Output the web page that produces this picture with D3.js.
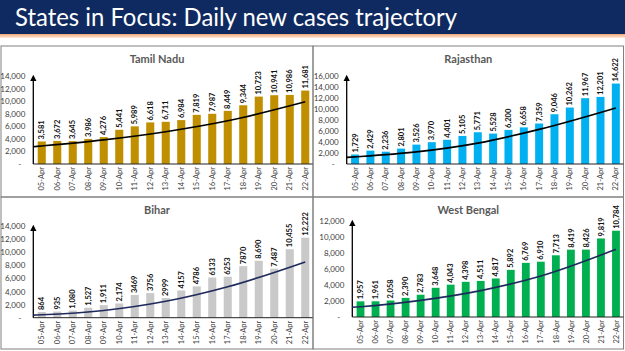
<!DOCTYPE html>
<html>
  <head>
  <title>States in Focus</title>
  </head>
  <body>
  <style>
    body, html {
      margin: 0;
      padding: 0;
      background: #fff;
    }
    svg text {
      font-family: Lato, "Open Sans", sans-serif;
    }
  </style>

  <svg id="svg" width="625" height="351"></svg>

  <script src="https://cdn.jsdelivr.net/npm/d3@7"></script>
  <script>
    // data
    const dates = ['05-Apr', '06-Apr', '07-Apr', '08-Apr', '09-Apr', '10-Apr', '11-Apr', '12-Apr', '13-Apr',
      '14-Apr', '15-Apr', '16-Apr', '17-Apr', '18-Apr', '19-Apr', '20-Apr', '21-Apr', '22-Apr']

    const tamilNadu = [3581, 3672, 3645, 3986, 4276, 5441, 5989, 6618, 6711, 6984, 7819, 7987, 8449, 9344, 10723, 10941, 10986, 11681]
    const rajasthan = [1729, 2429, 2236, 2801, 3526, 3970, 4401, 5105, 5771, 5528, 6200, 6658, 7359, 9046, 10262, 11967, 12201, 14622]
    const bihar = [864, 935, 1080, 1527, 1911, 2174, 3469, 3756, 2999, 4157, 4786, 6133, 6253, 7870, 8690, 7487, 10455, 12222]
    const biharLabels = ['864', '935', '1,080', '1,527', '1,911', '2,174', '3469', '3756', '2999', '4157', '4786', '6133',
      '6253', '7870', '8,690', '7,487', '10,455', '12,222']
    const westBengal = [1957, 1961, 2058, 2390, 2783, 3648, 4043, 4398, 4511, 4817, 5892, 6769, 6910, 7713, 8419, 8426, 9819, 10784]

    // trend line, read at a few dates (plus the value where it meets the y axis)
    const trendDates = ['05-Apr', '09-Apr', '13-Apr', '17-Apr', '22-Apr']
    const tamilNaduTrend = [2870, 3840, 5140, 6875, 9900]
    const rajasthanTrend = [1300, 2200, 3800, 6300, 10200]
    const biharTrend = [450, 1100, 2500, 4720, 8520]
    const westBengalTrend = [1280, 2080, 3300, 5125, 8460]
    const trendStart = { tn: 2750, rj: 1200, br: 400, wb: 1210 }

    const svg = d3.select('#svg')

    // header banner
    const grad = svg.append('defs').append('linearGradient')
      .attr('id', 'stripe').attr('x1', 0).attr('x2', 0).attr('y1', 0).attr('y2', 1)
    grad.append('stop').attr('offset', '0%').attr('stop-color', '#f0a878')
    grad.append('stop').attr('offset', '100%').attr('stop-color', '#fde9dc')

    svg.select('defs').append('marker')
      .attr('id', 'arrow')
      .attr('viewBox', '0 0 10 10')
      .attr('refX', 5).attr('refY', 5)
      .attr('markerWidth', 5).attr('markerHeight', 5)
      .attr('orient', 'auto')
      .append('path')
      .attr('d', 'M0,0 L10,5 L0,10 z')
      .attr('fill', '#000')

    svg.append('rect').attr('x', 0).attr('y', 0).attr('width', 625).attr('height', 34).attr('fill', '#0f2a60')
    svg.append('rect').attr('x', 0).attr('y', 34).attr('width', 625).attr('height', 4).attr('fill', 'url(#stripe)')
    svg.append('text')
      .attr('x', 15).attr('y', 26)
      .attr('fill', '#fff')
      .attr('font-size', 25)
      .attr('textLength', 442)
      .attr('lengthAdjust', 'spacingAndGlyphs')
      .text('States in Focus: Daily new cases trajectory')

    function drawPanel(cfg) {
      const g = svg.append('g')

      g.append('rect')
        .attr('x', cfg.box[0]).attr('y', cfg.box[1])
        .attr('width', cfg.box[2] - cfg.box[0]).attr('height', cfg.box[3] - cfg.box[1])
        .attr('fill', 'none')
        .attr('stroke', '#808080')
        .attr('stroke-width', 1)

      g.append('text')
        .attr('x', (cfg.box[0] + cfg.box[2]) / 2)
        .attr('y', cfg.box[1] + 17)
        .attr('text-anchor', 'middle')
        .attr('font-size', 11)
        .attr('font-weight', 'bold')
        .attr('fill', '#595959')
        .text(cfg.name)

      const xScale = d3.scaleBand()
        .domain(dates)
        .range([cfg.left + 0.7, cfg.box[2]])
        .paddingInner(0.48)
        .paddingOuter(0.24)
      const yScale = d3.scaleLinear()
        .domain([0, cfg.yMax])
        .range([cfg.zero, cfg.top])

      g.selectAll('.bar')
        .data(cfg.values)
        .join('rect')
        .attr('x', (d, i) => xScale(dates[i]))
        .attr('y', d => yScale(d))
        .attr('width', xScale.bandwidth())
        .attr('height', d => yScale(0) - yScale(d))
        .attr('fill', cfg.color)

      g.selectAll('.val')
        .data(cfg.values)
        .join('text')
        .attr('transform', (d, i) => `translate(${xScale(dates[i]) + xScale.bandwidth() / 2}, ${yScale(d) - 2}) rotate(-90)`)
        .attr('dy', '0.35em')
        .attr('font-size', 7.5)
        .attr('font-weight', 'bold')
        .attr('fill', '#111')
        .text((d, i) => cfg.labels ? cfg.labels[i] : d3.format(',')(d))

      // y axis
      const leftAxis = d3.axisLeft(yScale)
        .tickValues(d3.range(0, cfg.yMax + 1, 2000))
        .tickSize(0)
        .tickPadding(8)
        .tickFormat(d => d === 0 ? '-' : d3.format(',')(d))
      const ya = g.append('g')
        .attr('transform', `translate(${cfg.left}, 0)`)
        .call(leftAxis)
      ya.select('.domain').remove()
      ya.selectAll('text')
        .attr('font-family', null)
        .attr('font-size', 8)
        .attr('fill', '#404040')
      ya.selectAll('.tick').filter(d => d === 0).select('text').attr('x', -12)

      // x axis
      const bottomAxis = d3.axisBottom(xScale).tickSize(0)
      const xa = g.append('g')
        .attr('transform', `translate(0, ${cfg.zero})`)
        .call(bottomAxis)
      xa.select('.domain').remove()
      xa.selectAll('text')
        .attr('font-family', null)
        .attr('font-size', 7.5)
        .attr('fill', '#404040')
        .attr('transform', 'rotate(-90)')
        .attr('x', -3)
        .attr('y', 0)
        .attr('dy', '0.35em')
        .style('text-anchor', 'end')

      g.append('line')
        .attr('x1', cfg.left).attr('x2', cfg.box[2])
        .attr('y1', cfg.zero).attr('y2', cfg.zero)
        .attr('stroke', '#222')
        .attr('stroke-width', 1)
      g.append('line')
        .attr('x1', cfg.left).attr('x2', cfg.left)
        .attr('y1', cfg.zero).attr('y2', cfg.top + 2)
        .attr('stroke', '#000')
        .attr('stroke-width', 1.3)
        .attr('marker-end', 'url(#arrow)')

      // trend line
      const pts = [[cfg.left, cfg.trendStart]]
        .concat(trendDates.map((t, i) => [xScale(t) + xScale.bandwidth() / 2, cfg.trend[i]]))
      const linegen = d3.line()
        .x(d => d[0])
        .y(d => yScale(d[1]))
        .curve(d3.curveMonotoneX)
      g.append('path')
        .attr('d', linegen(pts))
        .attr('fill', 'none')
        .attr('stroke', cfg.trendColor)
        .attr('stroke-width', 1.6)
    }

    drawPanel({
      name: 'Tamil Nadu', values: tamilNadu, color: '#bf8f00',
      trend: tamilNaduTrend, trendStart: trendStart.tn, trendColor: '#000',
      box: [1, 46, 313, 197], left: 33.3, zero: 164, top: 76, yMax: 14000
    })
    drawPanel({
      name: 'Rajasthan', values: rajasthan, color: '#00b0f0',
      trend: rajasthanTrend, trendStart: trendStart.rj, trendColor: '#000',
      box: [313, 46, 623.5, 197], left: 346.7, zero: 164, top: 76, yMax: 16000
    })
    drawPanel({
      name: 'Bihar', values: bihar, labels: biharLabels, color: '#c9c9c9',
      trend: biharTrend, trendStart: trendStart.br, trendColor: '#1f2a5c',
      box: [1, 197, 313, 349], left: 33.3, zero: 317.7, top: 226, yMax: 14000
    })
    drawPanel({
      name: 'West Bengal', values: westBengal, color: '#00b050',
      trend: westBengalTrend, trendStart: trendStart.wb, trendColor: '#1f2a5c',
      box: [313, 197, 623.5, 349], left: 352.3, zero: 317, top: 221, yMax: 12000
    })
  </script>
  </body>
</html>
